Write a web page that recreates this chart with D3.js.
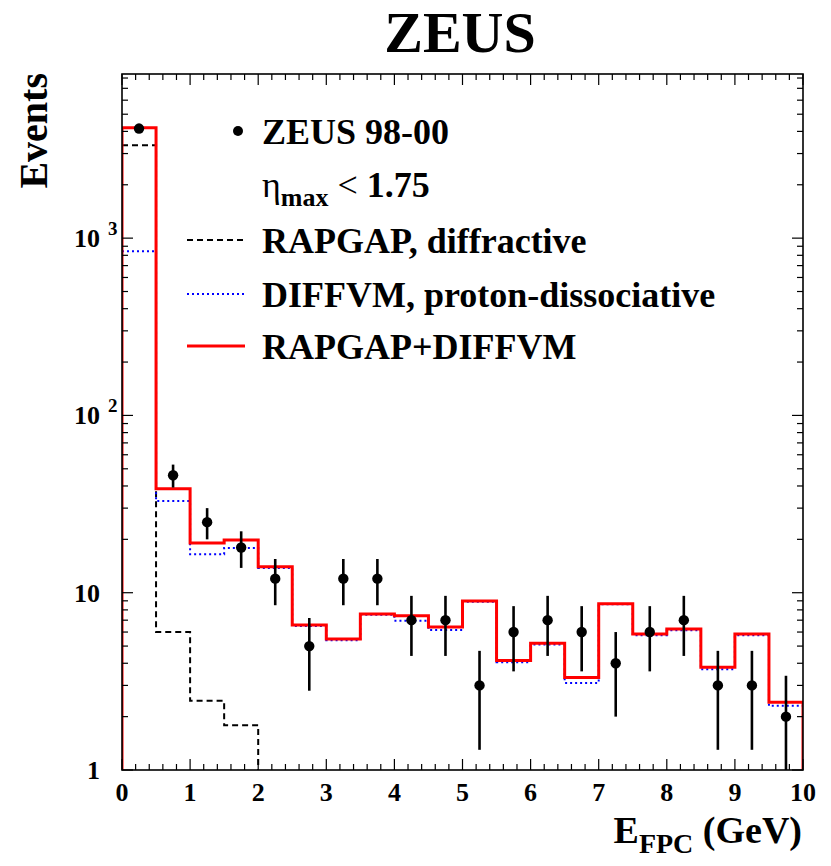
<!DOCTYPE html>
<html>
<head>
<meta charset="utf-8">
<script src="https://cdn.jsdelivr.net/npm/d3@7"></script>
<style>
  body { margin: 0; background: #fff; }
</style>
</head>
<body>
<div id="viz"></div>
<script>

// data (bins of 0.5 GeV)

const binLow = [0, 0.5, 1, 1.5, 2, 2.5, 3, 3.5, 4, 4.5, 5, 5.5, 6, 6.5, 7, 7.5, 8, 8.5, 9, 9.5];
const binWidth = 0.5;

const dataCounts = [4150, 46, 25, 18, 12, 5, 12, 12, 7, 7, 3, 6, 7, 6, 4, 6, 7, 3, 3, 2];
const dataErrors = [64, 6.8, 5, 4.2, 3.5, 2.2, 3.5, 3.5, 2.6, 2.6, 1.7, 2.4, 2.6, 2.4, 2, 2.4, 2.6, 1.7, 1.7, 1.4];

const rapgap = [3340, 6.0, 2.46, 1.79, 0.2, 0.1, 0.1, 0.1, 0.45, 0.25, 0.1, 0.1, 0.1, 0.23, 0.1, 0.1, 0.1, 0.1, 0.1, 0.1];
const diffvm = [843, 32.9, 16.5, 17.9, 13.8, 6.5, 5.4, 7.5, 6.95, 6.16, 8.9, 4.05, 5.1, 3.1, 8.6, 5.75, 6.15, 3.7, 5.75, 2.3];
const total  = [4190, 38.6, 19.1, 19.8, 14.0, 6.57, 5.48, 7.59, 7.42, 6.41, 8.98, 4.14, 5.18, 3.33, 8.67, 5.85, 6.24, 3.8, 5.85, 2.41];

const xTickLabels = [0, 1, 2, 3, 4, 5, 6, 7, 8, 9, 10];
const yTickLabels = [
  { v: 1, base: "1", exp: "" },
  { v: 10, base: "10", exp: "" },
  { v: 100, base: "10", exp: "2" },
  { v: 1000, base: "10", exp: "3" }
];

// dimensions

const dms = {
  width: 831,
  height: 866,
  margins: { top: 74, bottom: 96, left: 122, right: 28 }
};
dms.innerWidth = dms.width - dms.margins.left - dms.margins.right;
dms.innerHeight = dms.height - dms.margins.top - dms.margins.bottom;

const serif = "'Liberation Serif', Tinos, 'Times New Roman', Times, 'DejaVu Serif', serif";

// canvas

const svg = d3.select("#viz")
  .append("svg")
    .attr("width", dms.width)
    .attr("height", dms.height)
    .style("font-family", serif)
    .style("font-weight", "bold");

svg.append("rect").attr("width", dms.width).attr("height", dms.height).attr("fill", "#fff");

const g = svg.append("g")
  .attr("transform", `translate(${dms.margins.left},${dms.margins.top})`);

// scales

const x = d3.scaleLinear().domain([0, 10]).range([0, dms.innerWidth]);
const y = d3.scaleLog().domain([1, 8430]).range([dms.innerHeight, 0]);

svg.append("defs").append("clipPath").attr("id", "plotClip")
  .append("rect").attr("width", dms.innerWidth).attr("height", dms.innerHeight);

const plot = g.append("g").attr("clip-path", "url(#plotClip)");

// step outline of a histogram, starting and ending on the baseline
function histPath(values, closeLeft) {
  const bottom = dms.innerHeight + 5;
  const pts = [];
  pts.push([x(binLow[0]), closeLeft ? bottom : y(Math.max(values[0], 0.01))]);
  values.forEach((v, i) => {
    const yy = y(Math.max(v, 0.01));
    pts.push([x(binLow[i]), yy]);
    pts.push([x(binLow[i] + binWidth), yy]);
  });
  pts.push([x(10), bottom]);
  return d3.line()(pts);
}

plot.append("path")
  .attr("d", histPath(rapgap, false))
  .attr("fill", "none")
  .attr("stroke", "#000")
  .attr("stroke-width", 2)
  .attr("stroke-dasharray", "6,4");

plot.append("path")
  .attr("d", histPath(diffvm, false))
  .attr("fill", "none")
  .attr("stroke", "#0000ff")
  .attr("stroke-width", 2)
  .attr("stroke-dasharray", "2,3");

plot.append("path")
  .attr("d", histPath(total, true))
  .attr("fill", "none")
  .attr("stroke", "#ff0000")
  .attr("stroke-width", 3);

// data points
const points = plot.selectAll("g.pt")
  .data(dataCounts)
  .enter()
  .append("g")
    .attr("class", "pt");

points.append("line")
  .attr("x1", (d, i) => x(binLow[i] + binWidth / 2))
  .attr("x2", (d, i) => x(binLow[i] + binWidth / 2))
  .attr("y1", (d, i) => y(Math.max(d - dataErrors[i], 0.5)))
  .attr("y2", (d, i) => y(d + dataErrors[i]))
  .attr("stroke", "#000")
  .attr("stroke-width", 2.6);

points.append("circle")
  .attr("cx", (d, i) => x(binLow[i] + binWidth / 2))
  .attr("cy", d => y(d))
  .attr("r", 5.2)
  .attr("fill", "#000");

// frame and ticks

g.append("rect")
  .attr("width", dms.innerWidth)
  .attr("height", dms.innerHeight)
  .attr("fill", "none")
  .attr("stroke", "#000")
  .attr("stroke-width", 1.6);

const xTicks = x.ticks(50);
const isMajorX = t => Math.abs(t - Math.round(t)) < 1e-6;

g.selectAll("line.xtick")
  .data(xTicks)
  .enter()
  .append("line")
    .attr("x1", x).attr("x2", x)
    .attr("y1", dms.innerHeight)
    .attr("y2", t => dms.innerHeight - (isMajorX(t) ? 11 : 6))
    .attr("stroke", "#000").attr("stroke-width", 1.2);

g.selectAll("line.xtickTop")
  .data(xTicks)
  .enter()
  .append("line")
    .attr("x1", x).attr("x2", x)
    .attr("y1", 0)
    .attr("y2", t => isMajorX(t) ? 11 : 6)
    .attr("stroke", "#000").attr("stroke-width", 1.2);

const yTicks = y.ticks();
const isMajorY = t => Math.abs(Math.log10(t) - Math.round(Math.log10(t))) < 1e-6;

g.selectAll("line.ytick")
  .data(yTicks)
  .enter()
  .append("line")
    .attr("x1", 0)
    .attr("x2", t => isMajorY(t) ? 11 : 6)
    .attr("y1", y).attr("y2", y)
    .attr("stroke", "#000").attr("stroke-width", 1.2);

g.selectAll("line.ytickRight")
  .data(yTicks)
  .enter()
  .append("line")
    .attr("x1", dms.innerWidth)
    .attr("x2", t => dms.innerWidth - (isMajorY(t) ? 11 : 6))
    .attr("y1", y).attr("y2", y)
    .attr("stroke", "#000").attr("stroke-width", 1.2);

// tick labels

g.selectAll("text.xlabel")
  .data(xTickLabels)
  .enter()
  .append("text")
    .attr("x", x)
    .attr("y", dms.innerHeight + 31)
    .attr("text-anchor", "middle")
    .attr("font-size", 26)
    .text(d => d);

const yLab = g.selectAll("g.ylabel")
  .data(yTickLabels)
  .enter()
  .append("g")
    .attr("transform", d => `translate(-22,${y(d.v)})`);

yLab.append("text")
  .attr("y", 9)
  .attr("text-anchor", "end")
  .attr("font-size", 26)
  .text(d => d.base);

yLab.append("text")
  .attr("x", 8)
  .attr("y", -3)
  .attr("font-size", 19)
  .text(d => d.exp);

// titles

svg.append("text")
  .attr("x", 460)
  .attr("y", 52)
  .attr("text-anchor", "middle")
  .attr("font-size", 58)
  .text("ZEUS");

svg.append("text")
  .attr("transform", "translate(47,73) rotate(-90)")
  .attr("text-anchor", "end")
  .attr("font-size", 40)
  .text("Events");

const xTitle = svg.append("text")
  .attr("x", 802)
  .attr("y", 843)
  .attr("text-anchor", "end")
  .attr("font-size", 38);
xTitle.append("tspan").text("E");
xTitle.append("tspan").attr("font-size", 28).attr("dy", 10).text("FPC");
xTitle.append("tspan").attr("dy", -10).text(" (GeV)");

// legend

const legend = svg.append("g");
const legX = 262;
const legFont = 36;

legend.append("circle").attr("cx", 238).attr("cy", 131).attr("r", 5).attr("fill", "#000");
legend.append("text").attr("x", legX).attr("y", 144).attr("font-size", legFont).text("ZEUS 98-00");

const eta = legend.append("text").attr("x", legX).attr("y", 197).attr("font-size", legFont);
eta.append("tspan").style("font-weight", "normal").text("η");
eta.append("tspan").attr("font-size", 26).attr("dy", 9).text("max");
eta.append("tspan").attr("dy", -9).style("font-weight", "normal").text(" < ");
eta.append("tspan").text("1.75");

const legendLines = [
  { label: "RAPGAP, diffractive", color: "#000", dash: "6,4", width: 2, yy: 240 },
  { label: "DIFFVM, proton-dissociative", color: "#0000ff", dash: "2,3", width: 2, yy: 294 },
  { label: "RAPGAP+DIFFVM", color: "#ff0000", dash: null, width: 3, yy: 346 }
];

legendLines.forEach(l => {
  legend.append("line")
    .attr("x1", 187).attr("x2", 245)
    .attr("y1", l.yy).attr("y2", l.yy)
    .attr("stroke", l.color)
    .attr("stroke-width", l.width)
    .attr("stroke-dasharray", l.dash);
  legend.append("text")
    .attr("x", legX)
    .attr("y", l.yy + 13)
    .attr("font-size", legFont)
    .text(l.label);
});

</script>
</body>
</html>
